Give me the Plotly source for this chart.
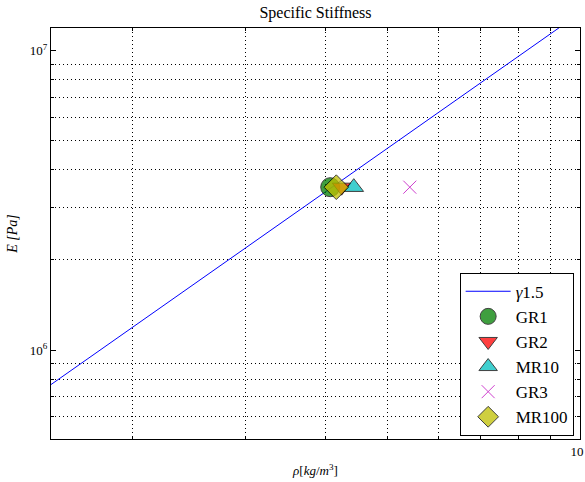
import numpy as np
import plotly.graph_objects as go

# ---- data ----
series_names = ["GR1", "GR2", "MR10", "GR3", "MR100"]
rho_values = [4.07, 4.24, 4.43, 5.42, 4.16]          # density
E_values = [3.5e6, 3.5e6, 3.5e6, 3.5e6, 3.5e6]        # Young's modulus [Pa]
marker_symbols = ["circle", "triangle-down", "triangle-up", "x-thin-open", "diamond"]
marker_colors = ["#008000", "#ff0000", "#00bfbf", "#bf00bf", "#bfbf00"]
marker_sizes = [19, 16, 17, 13, 19]

# power-law reference line E = c * rho^1.5
line_coef = 4.22e5
line_exp = 1.5
line_rho = np.logspace(np.log10(1.45), 1.0, 60)
line_E = line_coef * line_rho ** line_exp

x_major_vals = [10]
x_major_text = ["10"]
x_minor_vals = [2, 3, 4, 5, 6, 7, 8, 9]
y_major_vals = [1e6, 1e7]
y_major_text = ["10<sup>6</sup>", "10<sup>7</sup>"]
y_minor_vals = [6e5, 7e5, 8e5, 9e5, 2e6, 3e6, 4e6, 5e6, 6e6, 7e6, 8e6, 9e6]

x_range = [np.log10(1.49), 1.0]
y_range = [np.log10(5.05e5), np.log10(1.19e7)]

FONT = "'Liberation Serif', 'DejaVu Serif', serif"

fig = go.Figure()
fig.add_trace(go.Scatter(x=line_rho, y=line_E, mode="lines",
                         line=dict(color="#0000ff", width=1),
                         name="<i>γ</i>1.5"))
for name, r, e, sym, col, sz in zip(series_names, rho_values, E_values,
                                    marker_symbols, marker_colors, marker_sizes):
    if sym.endswith("open"):
        mk = dict(symbol=sym, size=sz, color=col, line=dict(color=col, width=1))
    else:
        mk = dict(symbol=sym, size=sz, color=col, line=dict(color="#000000", width=1))
    fig.add_trace(go.Scatter(x=[r], y=[e], mode="markers", name=name,
                             marker=mk, opacity=0.75))

minor_common = dict(tickmode="array", ticks="inside", ticklen=3, tickcolor="black",
                    showgrid=True, gridcolor="black", griddash="1px,3px", gridwidth=1)

axis_common = dict(
    showline=True, linecolor="black", linewidth=1, mirror="allticks",
    showgrid=False, zeroline=False, ticks="inside", ticklen=5,
    tickcolor="black", tickfont=dict(family=FONT, size=13, color="black"),
    automargin=False, ticklabeloverflow="allow",
)

fig.update_xaxes(type="log", range=x_range, tickmode="array",
                 tickvals=x_major_vals, ticktext=x_major_text,
                 ticklabelshift=-3,
                 minor=dict(tickvals=x_minor_vals, **minor_common),
                 title=dict(text="<i>ρ</i>[<i>kg</i>/<i>m</i><sup>3</sup>]",
                            font=dict(family=FONT, size=13, color="black"),
                            standoff=8),
                 **axis_common)
fig.update_yaxes(type="log", range=y_range, tickmode="array",
                 tickvals=y_major_vals, ticktext=y_major_text,
                 minor=dict(tickvals=y_minor_vals, **minor_common),
                 title=dict(text="<i>E [Pa]</i>",
                            font=dict(family=FONT, size=14, color="black"),
                            standoff=8),
                 **axis_common)

fig.update_layout(
    width=585, height=482,
    margin=dict(l=51, r=5, t=28, b=43, autoexpand=False),
    paper_bgcolor="white", plot_bgcolor="white",
    title=dict(text="Specific Stiffness", x=0.5, xanchor="center",
               xref="paper", yref="container", y=0.975, yanchor="middle",
               font=dict(family=FONT, size=16, color="black")),
    legend=dict(x=0.988, xanchor="right", y=0.008, yanchor="bottom",
                bordercolor="black", borderwidth=1, bgcolor="white",
                font=dict(family=FONT, size=17, color="black"),
                itemwidth=45, tracegroupgap=0),
    showlegend=True,
)

fig.write_html("out.html",
               config={"displayModeBar": False},
               post_script="document.body.style.margin='0';document.body.style.padding='0';")
